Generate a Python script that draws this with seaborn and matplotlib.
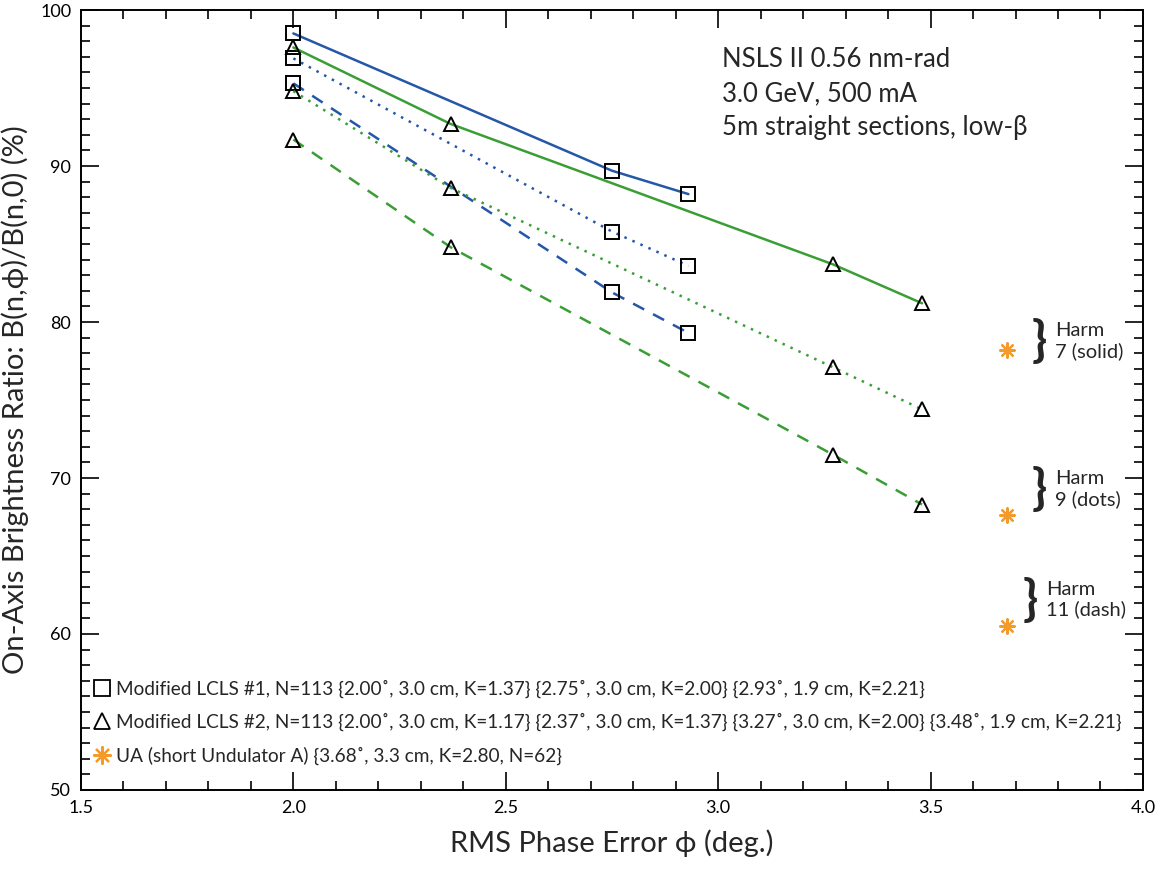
import matplotlib
matplotlib.use('Agg')
import matplotlib.pyplot as plt
from matplotlib.lines import Line2D
from matplotlib.ticker import MultipleLocator
import seaborn as sns

# Modified LCLS #1 (squares, blue)
x_lcls1 = [2.00, 2.75, 2.93]
h7_lcls1 = [98.5, 89.7, 88.2]
h9_lcls1 = [96.9, 85.8, 83.6]
h11_lcls1 = [95.3, 81.9, 79.3]

# Modified LCLS #2 (triangles, green)
x_lcls2 = [2.00, 2.37, 3.27, 3.48]
h7_lcls2 = [97.6, 92.7, 83.7, 81.2]
h9_lcls2 = [94.8, 88.6, 77.1, 74.4]
h11_lcls2 = [91.7, 84.8, 71.5, 68.3]

# UA short undulator (stars)
x_ua = [3.68, 3.68, 3.68]
y_ua = [78.2, 67.6, 60.5]

legend_labels = [
    "Modified LCLS #1, N=113 {2.00˚, 3.0 cm, K=1.37} {2.75˚, 3.0 cm, K=2.00} {2.93˚, 1.9 cm, K=2.21}",
    "Modified LCLS #2, N=113 {2.00˚, 3.0 cm, K=1.17} {2.37˚, 3.0 cm, K=1.37} {3.27˚, 3.0 cm, K=2.00} {3.48˚, 1.9 cm, K=2.21}",
    "UA (short Undulator A) {3.68˚, 3.3 cm, K=2.80, N=62}",
]

sns.set_style("ticks")
plt.rcParams['font.family'] = ['Lato', 'DejaVu Sans']

blue = '#2457a8'
green = '#3a9e35'
orange = '#f39a2a'
dots = (0, (1, 2.5))
dash = (0, (5, 4))

fig = plt.figure(figsize=(11.62, 8.73), dpi=100)
ax = fig.add_axes([0.0697, 0.0951, 0.9139, 0.8934])

series = [
    (x_lcls1, h7_lcls1, blue, '-', 's'),
    (x_lcls1, h9_lcls1, blue, dots, 's'),
    (x_lcls1, h11_lcls1, blue, dash, 's'),
    (x_lcls2, h7_lcls2, green, '-', '^'),
    (x_lcls2, h9_lcls2, green, dots, '^'),
    (x_lcls2, h11_lcls2, green, dash, '^'),
]
for xs, ys, col, ls, mk in series:
    sns.lineplot(x=xs, y=ys, ax=ax, color=col, linestyle=ls, linewidth=1.8,
                 marker=mk, markersize=10.5, markerfacecolor='none',
                 markeredgecolor='black', markeredgewidth=1.4, sort=False)

sns.scatterplot(x=x_ua, y=y_ua, ax=ax, marker=(8, 2, 0), s=110,
                color=orange, linewidth=1.6)

ax.set_xlim(1.5, 4.0)
ax.set_ylim(50, 100)
ax.xaxis.set_major_locator(MultipleLocator(0.5))
ax.xaxis.set_minor_locator(MultipleLocator(0.1))
ax.yaxis.set_major_locator(MultipleLocator(10))
ax.yaxis.set_minor_locator(MultipleLocator(1))
ax.xaxis.set_major_formatter(plt.FormatStrFormatter('%.1f'))
ax.tick_params(which='both', direction='in', top=True, right=True,
               labelsize=13, width=1.2, colors='black')
ax.tick_params(which='major', length=13, pad=7)
ax.tick_params(which='minor', length=6.5)
for sp in ax.spines.values():
    sp.set_linewidth(1.4)
    sp.set_color('black')

ax.set_xlabel("RMS Phase Error ϕ (deg.)", fontsize=21, labelpad=10)
ax.set_ylabel("On-Axis Brightness Ratio: B(n,ϕ)/B(n,0) (%)", fontsize=21, labelpad=8)

ax.text(3.01, 97.6, "NSLS II 0.56 nm-rad\n3.0 GeV, 500 mA\n5m straight sections, low-β",
        fontsize=18.5, va='top', ha='left', linespacing=1.45)

harms = [(3.757, 78.8, "Harm\n7 (solid)"), (3.757, 69.3, "Harm\n9 (dots)"),
         (3.734, 62.2, "Harm\n11 (dash)")]
for hx, hy, lab in harms:
    ax.text(hx, hy, "}", fontsize=36, va='center', ha='center', fontweight='bold')
    ax.text(hx + 0.037, hy, lab, fontsize=14.5, va='center', ha='left', linespacing=1.2)

handles = [
    Line2D([], [], marker='s', linestyle='none', markersize=12, markerfacecolor='none',
           markeredgecolor='black', markeredgewidth=1.3),
    Line2D([], [], marker='^', linestyle='none', markersize=12, markerfacecolor='none',
           markeredgecolor='black', markeredgewidth=1.3),
    Line2D([], [], marker=(8, 2, 0), linestyle='none', markersize=13,
           markeredgecolor=orange, color=orange, markeredgewidth=1.6),
]
ax.legend(handles, legend_labels, loc='lower left', frameon=False, fontsize=13.7,
          handlelength=0.8, handletextpad=0.35, labelspacing=0.8,
          borderaxespad=0.3, bbox_to_anchor=(0.0, 0.015))

plt.savefig('out.png', dpi=100)
